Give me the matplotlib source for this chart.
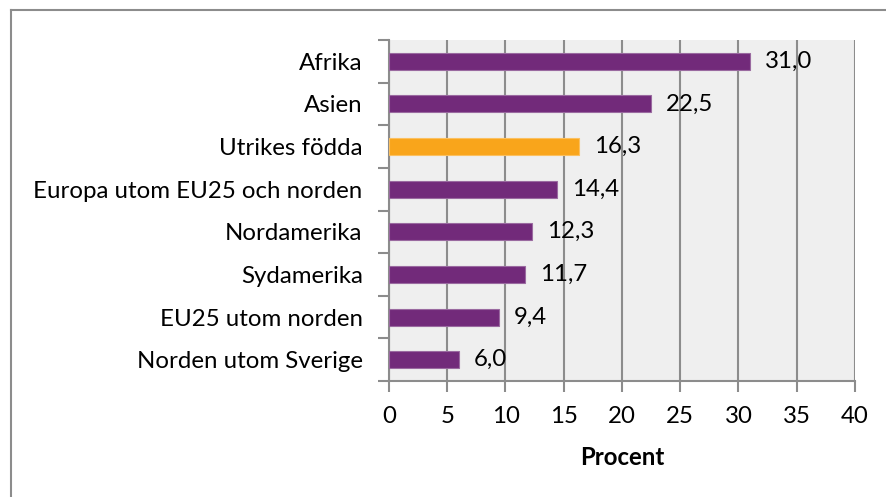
import matplotlib
matplotlib.use("Agg")
import matplotlib.pyplot as plt
from matplotlib.lines import Line2D

categories = ["Afrika", "Asien", "Utrikes födda", "Europa utom EU25 och norden",
              "Nordamerika", "Sydamerika", "EU25 utom norden", "Norden utom Sverige"]
values = [31.0, 22.5, 16.3, 14.4, 12.3, 11.7, 9.4, 6.0]
highlight = "Utrikes födda"
xticks = [0, 5, 10, 15, 20, 25, 30, 35, 40]
xlabel = "Procent"

purple = "#722A7A"
orange = "#F9A51B"
grid_c = "#8C8C8C"

plt.rcParams['font.family'] = ['Lato', 'DejaVu Sans']
W, H = 887, 497
fig = plt.figure(figsize=(W/100, H/100), dpi=100)
ax = fig.add_axes([389/W, 1-381/H, (855-389)/W, (381-40)/H])
ax.set_facecolor("#EFEFEF")

n = len(categories)
ypos = list(range(n))[::-1]
colors = [orange if c == highlight else purple for c in categories]
edges = ["#9a6aa0" if c == purple else "#fbc060" for c in colors]
ax.barh(ypos, values, height=0.4, color=colors, edgecolor=edges, linewidth=0.8, zorder=3)

fs = 17.3
for y, v in zip(ypos, values):
    ax.text(v + 1.3, y, f"{v:.1f}".replace(".", ","), va="center", ha="left",
            fontsize=fs, color="black", zorder=4)

ax.set_xlim(0, 40)
ax.set_ylim(-0.5, n - 0.5)
ax.set_xticks(xticks)
ax.set_xticklabels([str(t) for t in xticks], fontsize=fs)
ax.set_yticks(ypos)
ax.set_yticklabels(categories, fontsize=fs)
ax.tick_params(axis='y', length=0, pad=19)
ax.set_yticks([i - 0.5 for i in range(n + 1)], minor=True)
ax.tick_params(axis='y', which='minor', length=8, width=1.5, color=grid_c, direction='out')
ax.tick_params(axis='x', length=8, width=1.5, color=grid_c, direction='out', pad=10)
ax.xaxis.grid(True, color=grid_c, linewidth=1.5, zorder=1)
ax.set_axisbelow(True)
for s in ["top", "right"]:
    ax.spines[s].set_visible(False)
for s in ["left", "bottom"]:
    ax.spines[s].set_color(grid_c)
    ax.spines[s].set_linewidth(1.5)
ax.set_xlabel(xlabel, fontsize=fs, fontweight="bold", labelpad=14)

# outer chart border (top and left visible)
fig.add_artist(Line2D([11/W, 11/W], [0, 1-10/H], transform=fig.transFigure, color=grid_c, lw=1.5))
fig.add_artist(Line2D([11/W, 1], [1-10/H, 1-10/H], transform=fig.transFigure, color=grid_c, lw=1.5))

fig.savefig("out.png", dpi=100)
